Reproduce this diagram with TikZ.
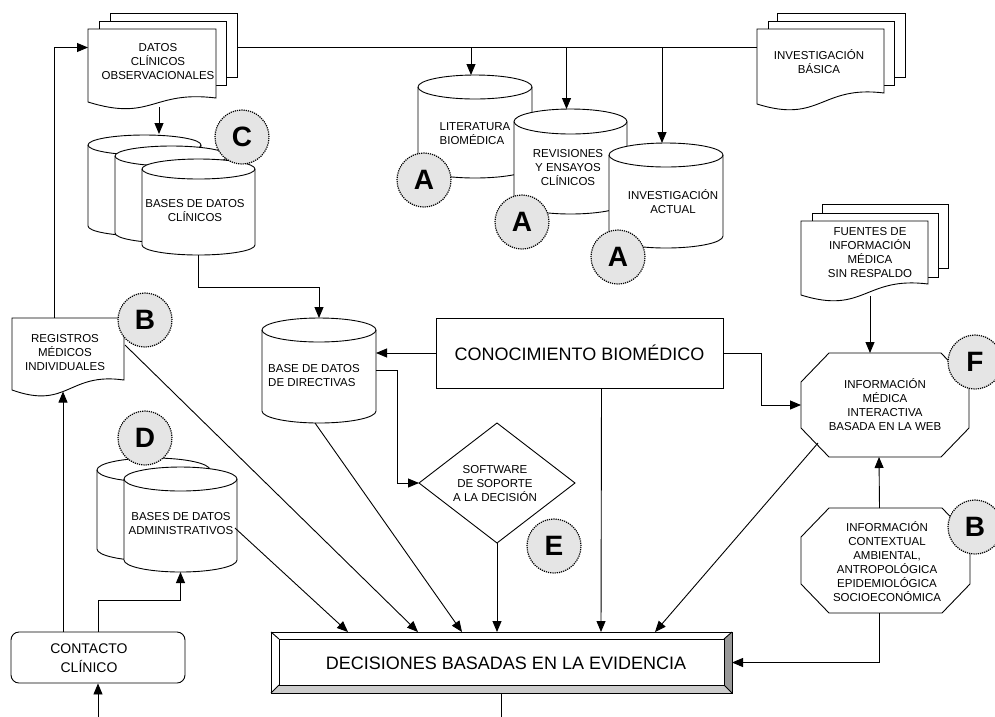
\documentclass[tikz,border=0pt]{standalone}
\usepackage{fontspec}
\setmainfont{Liberation Sans}
\usetikzlibrary{arrows.meta,calc}

% vertical database cylinder: left, top, width, height, cap radius, node name
\newcommand\cylshape[6]{%
  \pgfmathsetmacro\cyL{#1}%
  \pgfmathsetmacro\cyR{#1+#3}%
  \pgfmathsetmacro\cyX{#1+0.5*#3}%
  \pgfmathsetmacro\cyT{#2+#5}%
  \pgfmathsetmacro\cyB{#2+#4-#5}%
  \pgfmathsetmacro\cyKx{0.5523*0.5*#3}%
  \pgfmathsetmacro\cyKy{0.5523*#5}%
  \pgfmathsetmacro\cyRy{#5}%
  \draw[shp] (\cyL,\cyT) -- (\cyL,\cyB)
    .. controls (\cyL,{\cyB+\cyKy}) and ({\cyX-\cyKx},{\cyB+\cyRy}) .. (\cyX,{\cyB+\cyRy})
    .. controls ({\cyX+\cyKx},{\cyB+\cyRy}) and (\cyR,{\cyB+\cyKy}) .. (\cyR,\cyB)
    -- (\cyR,\cyT)
    .. controls (\cyR,{\cyT-\cyKy}) and ({\cyX+\cyKx},{\cyT-\cyRy}) .. (\cyX,{\cyT-\cyRy})
    .. controls ({\cyX-\cyKx},{\cyT-\cyRy}) and (\cyL,{\cyT-\cyKy}) .. (\cyL,\cyT) -- cycle;
  \draw[ln] (\cyL,\cyT)
    .. controls (\cyL,{\cyT+\cyKy}) and ({\cyX-\cyKx},{\cyT+\cyRy}) .. (\cyX,{\cyT+\cyRy})
    .. controls ({\cyX+\cyKx},{\cyT+\cyRy}) and (\cyR,{\cyT+\cyKy}) .. (\cyR,\cyT);
  \node[area, minimum width=#3pt, minimum height=#4pt] (#6) at (\cyX,{#2+0.5*#4}) {};
}

% document sheet with wavy lower edge: left, top, width, left drop, right drop, node name
\newcommand\docshape[6]{%
  \draw[shp] (#1,#2) -- ({#1+#3},#2) -- ({#1+#3},{#2+#5})
    .. controls ({#1+0.5*#3},{#2+#5-8}) and ({#1+0.5*#3},{#2+#4+20}) .. (#1,{#2+#4}) -- cycle;
  \node[area, minimum width=#3pt, minimum height={#4pt+6pt}] (#6) at ({#1+0.5*#3},{#2+0.5*#4+3}) {};
}

\tikzset{
  shp/.style={draw, fill=white, line width=0.9pt},
  ln/.style={line width=0.9pt},
  arr/.style={ln, -{Triangle[length=11pt,width=9pt]}},
  area/.style={rectangle, inner sep=0pt, outer sep=0pt, draw=none},
  lbl/.style={font=\fontsize{11.5}{14}\selectfont, align=center, inner sep=0pt},
  big/.style={font=\fontsize{18}{22}\selectfont, inner sep=0pt},
  tag/.style={circle, draw, densely dotted, line width=1.2pt, fill=black!10,
    minimum size=54pt, inner sep=0pt, font=\fontsize{28}{28}\selectfont\bfseries},
}

\begin{document}
\begin{tikzpicture}[x=1pt,y=-1pt]
\useasboundingbox[fill=white] (0,0) rectangle (995,716);

% ---------- document stacks ----------
\draw[shp] (110,13) rectangle (237,77);
\draw[shp] (99,21) rectangle (226,85);
\docshape{88}{29}{128}{73}{69}{datos}
\node[lbl] (datos-t) at (158,62) {DATOS\\CLÍNICOS\\OBSERVACIONALES};

\draw[shp] (777,13) rectangle (905,77);
\draw[shp] (768,21) rectangle (894,85);
\docshape{757}{29}{127}{75}{64}{invest}
\node[lbl] (invest-t) at (819,61.5) {INVESTIGACIÓN\\BÁSICA};

\draw[shp] (822,204) rectangle (948,268);
\draw[shp] (812,213) rectangle (938,277);
\docshape{801}{221}{127}{74}{63}{fuentes}
\node[lbl] (fuentes-t) at (870,253) {FUENTES DE\\INFORMACIÓN\\MÉDICA\\SIN RESPALDO};

\docshape{12}{318}{112}{72}{62}{reg}
\node[lbl] (reg-t) at (65,352.5) {REGISTROS\\MÉDICOS\\INDIVIDUALES};

% ---------- databases ----------
\cylshape{88}{135}{113}{101}{10}{clinA}
\cylshape{115}{146}{113}{97}{10}{clinB}
\cylshape{142}{159}{113}{96}{10}{clinC}
\node[lbl] (clin-t) at (195,210.5) {BASES DE DATOS\\CLÍNICOS};

\cylshape{418}{75}{114}{103}{12}{lit}
\node[lbl, align=left] (lit-t) at (475,133.5) {LITERATURA\\BIOMÉDICA};
\cylshape{514}{109}{113}{105}{12.5}{rev}
\node[lbl] (rev-t) at (568,167.5) {REVISIONES\\Y ENSAYOS\\CLÍNICOS};
\cylshape{609}{143}{114}{105}{12}{act}
\node[lbl] (act-t) at (673,202) {INVESTIGACIÓN\\ACTUAL};

\cylshape{262}{318}{114}{105}{12}{dir}
\node[lbl, align=left, anchor=west] (dir-t) at (268,376) {BASE DE DATOS\\DE DIRECTIVAS};

\cylshape{97}{458}{113}{103}{12}{admA}
\cylshape{124}{467}{113}{105}{12}{admB}
\node[lbl] (adm-t) at (181,523.5) {BASES DE DATOS\\ADMINISTRATIVOS};

% ---------- process boxes ----------
\node[draw, fill=white, line width=0.9pt, minimum width=287pt, minimum height=70pt,
  inner sep=0pt, big] (con) at (579.5,353) {CONOCIMIENTO BIOMÉDICO};

\draw[shp] (419,483) -- (497,423) -- (575,483) -- (497,543) -- cycle;
\node[area, minimum width=156pt, minimum height=120pt] (soft) at (497,483) {};
\node[lbl] (soft-t) at (495,484) {SOFTWARE\\DE SOPORTE\\A LA DECISIÓN};

\draw[shp] (829,353) -- (941,353) -- (969,382) -- (969,428) -- (941,457)
  -- (829,457) -- (801,428) -- (801,382) -- cycle;
\node[area, minimum width=168pt, minimum height=104pt] (octF) at (885,405) {};
\node[lbl] (octF-t) at (885,405) {INFORMACIÓN\\MÉDICA\\INTERACTIVA\\BASADA EN LA WEB};

\draw[shp] (829,508) -- (942,508) -- (970,537) -- (970,584) -- (942,613)
  -- (829,613) -- (801,584) -- (801,537) -- cycle;
\node[area, minimum width=169pt, minimum height=105pt] (octB) at (885.5,560.5) {};
\node[lbl] (octB-t) at (887,562) {INFORMACIÓN\\CONTEXTUAL\\AMBIENTAL,\\ANTROPOLÓGICA\\EPIDEMIOLÓGICA\\SOCIOECONÓMICA};

\node[draw, fill=white, rounded corners=8pt, line width=0.9pt, minimum width=174pt,
  minimum height=51pt, inner sep=0pt] (cont) at (98,657.5) {};
\node[lbl, font=\fontsize{14}{19}\selectfont] (cont-t) at (89,658.5) {CONTACTO\\CLÍNICO};

% bevelled decision box
\fill[white] (271,632) rectangle (732,693);
\fill[black!40] (724,639) -- (732,632) -- (732,693) -- (724,685) -- cycle;
\fill[black!20] (279,685) -- (724,685) -- (732,693) -- (271,693) -- cycle;
\draw[ln] (271,632) rectangle (732,693);
\draw[ln] (279,639) rectangle (724,685);
\draw[ln] (271,632) -- (279,639) (732,632) -- (724,639)
  (271,693) -- (279,685) (732,693) -- (724,685);
\node[area, minimum width=461pt, minimum height=61pt] (dec) at (501.5,662.5) {};
\node[big] (dec-t) at (506,663) {DECISIONES BASADAS EN LA EVIDENCIA};

% ---------- connectors ----------
\coordinate (bus) at ([yshift=21pt]datos.east);
\draw[ln] ([xshift=21pt]bus) -- (bus -| invest.west);
\draw[arr] ($(bus -| lit.north)+(-4,0)$) -- ($(lit.north)+(-4,0)$);
\draw[arr] ($(bus -| rev.north)+(-4,0)$) -- ($(rev.north)+(-4,0)$);
\draw[arr] ($(bus -| act.north)+(-4,0)$) -- ($(act.north)+(-4,0)$);
\draw[arr] ($(reg.north)+(-14,0)$) |- (bus -| datos.west);
\draw[arr] ($(datos.south)+(7,-1)$) -- ++(0,27);
\draw[arr] (clinC.south) -- ++(0,32) -| (dir.north);
\draw[arr] (con.west) -- (con.west -| dir.east);
\draw[arr] (dir.east) -- ++(21,0) |- (soft.west);
\draw[arr] (con.east) -- ++(38,0) |- (octF.west);
\draw[arr] ($(fuentes.south)+(5.5,-5)$) -- ++(0,57);
\draw[arr] ($(octB.north)+(-6,0)$) -- ($(octF.south)+(-6,0)$);
\draw[arr] ($(octB.south)+(-6,0)$) |- (dec.east);
\draw[ln] (dec.south) -- ++(0,30);
\coordinate (cin) at (98,722);
\draw[arr] (cin) -- (cont.south);
\draw[arr] ($(cont.north)+(-35,0)$) -- ++(0,-240);
\draw[arr] (cont.north) -- ++(0,-31) -| (admB.south);

\draw[arr] ($(admB.east)+(-2,8.5)$) -- ($(dec.north west)+(77,0)$);
\draw[arr] ($(reg.east)+(1,-12)$) -- ($(dec.north west)+(147,0)$);
\draw[arr] ($(dir.south)+(-4,0)$) -- ($(dec.north west)+(191,0)$);
\draw[arr] (soft.south) -- (soft.south |- dec.north);
\draw[arr] ($(con.south)+(22,0)$) -- ($(dec.north west)+(330,0)$);
\draw[arr] ($(octF.south west)+(17,-14)$) -- ($(dec.north west)+(384,0)$);

% ---------- letter tags ----------
\node[tag] (tagC) at (242,137) {C};
\node[tag] (tagA1) at (424,180) {A};
\node[tag] (tagA2) at (522,222) {A};
\node[tag] (tagA3) at (618,257) {A};
\node[tag] (tagB1) at (145,320) {B};
\node[tag] (tagD) at (145,438) {D};
\node[tag] (tagE) at (554,546) {E};
\node[tag] (tagF) at (975,362) {F};
\node[tag] (tagB2) at (975,527) {B};
\end{tikzpicture}
\end{document}
